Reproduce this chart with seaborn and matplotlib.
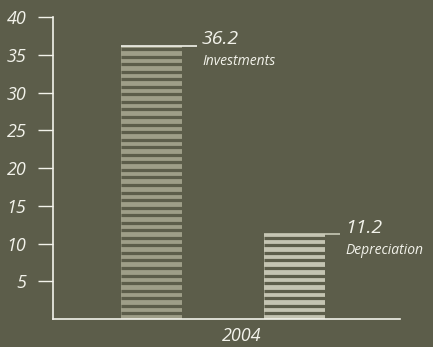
import numpy as np
import pandas as pd
import matplotlib
matplotlib.use('Agg')
import matplotlib.pyplot as plt
import seaborn as sns

# data
categories = ['Investments', 'Depreciation']
values = [36.2, 11.2]
bar_colors = ['#9e9e88', '#c4c4b2']
yticks = [5, 10, 15, 20, 25, 30, 35, 40]
year = '2004'

bg = '#5c5d4a'
fg = '#f2f2ea'

sns.set_style('white')
plt.rcParams['font.family'] = ['Open Sans', 'DejaVu Sans']

df = pd.DataFrame({'item': categories, 'value': values})

fig = plt.figure(figsize=(4.33, 3.47), dpi=100, facecolor=bg)
ax = fig.add_axes([53/433, 1 - 319/347, 347/433, 302/347])
ax.set_facecolor(bg)

sns.barplot(data=df, x='item', y='value', hue='item', palette=bar_colors,
            width=0.427, legend=False, saturation=1, ax=ax,
            edgecolor='none', linewidth=0)

ax.set_ylim(0, 40)
ax.set_xlim(-0.689, 1.738)

# stripes: dark gaps every unit inside each bar
for p in ax.patches:
    x0, w, h = p.get_x(), p.get_width(), p.get_height()
    ys = np.arange(0.75, h - 0.3, 1.0)
    ax.hlines(ys, x0, x0 + w, color=bg, lw=2.3, zorder=3)

# top line + labels
for i, (p, name, v) in enumerate(zip(ax.patches, categories, values)):
    x0, w = p.get_x(), p.get_width()
    lc = fg if i == 0 else '#c8c8b6'
    ax.plot([x0, x0 + w + 0.105], [v, v], color=lc, lw=1.2, zorder=4,
            solid_capstyle='butt')
    ax.text(x0 + w + 0.14, v - 0.35, f'{v}', color=fg, fontsize=14,
            style='italic', ha='left', va='bottom')
    ax.text(x0 + w + 0.14, v - 1.15, name, color=fg, fontsize=10,
            style='italic', ha='left', va='top')

ax.set_yticks(yticks)
ax.set_yticklabels([str(t) for t in yticks], color=fg, fontsize=13, style='italic')
ax.set_xticks([])
ax.tick_params(axis='y', direction='out', length=11, width=1, color=fg, pad=8, left=True)
ax.set_xlabel('')
ax.set_ylabel('')

for s in ['top', 'right']:
    ax.spines[s].set_visible(False)
for s in ['left', 'bottom']:
    ax.spines[s].set_color(fg)
    ax.spines[s].set_linewidth(1.2)

fig.text(242/433, 1 - 336/347, year, color=fg, fontsize=13, style='italic',
         ha='center', va='center')

fig.savefig('out.png', dpi=100, facecolor=bg)
